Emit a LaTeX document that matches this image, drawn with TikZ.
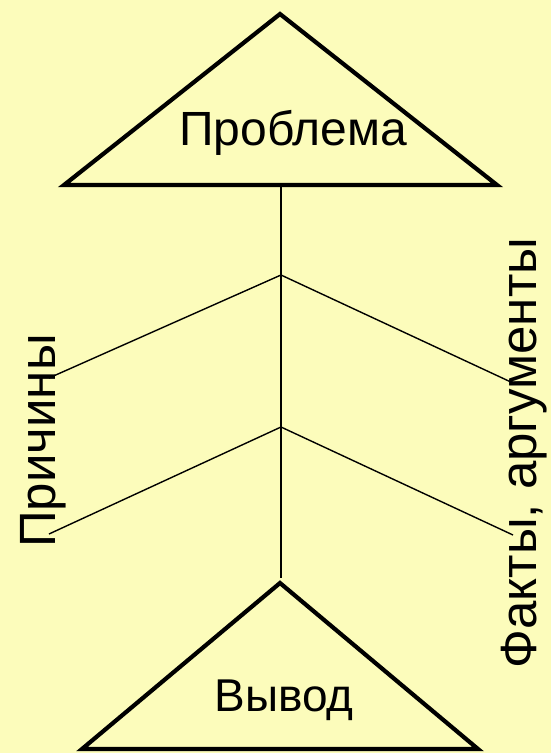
\documentclass[tikz,border=0pt]{standalone}
\usepackage{fontspec}
\setmainfont{Liberation Sans}
\usetikzlibrary{positioning}
\definecolor{paper}{HTML}{FCFCBB}

\begin{document}
\begin{tikzpicture}[x=1pt, y=-1pt,
    frame/.style={line width=4.2pt, line join=miter},
    bone/.style={line width=1.4pt},
    lbl/.style={inner sep=0pt, anchor=base},
    sidelbl/.style={lbl, rotate=90, font=\fontsize{51}{55}\selectfont}]
  \fill[paper] (0,0) rectangle (551,753);
  \useasboundingbox (0,0) rectangle (551,753);
  % triangles
  \coordinate (topA) at (280,14);
  \coordinate (topL) at (64,185);
  \coordinate (topR) at (497,185);
  \coordinate (botA) at (280,583);
  \coordinate (botL) at (82,749);
  \coordinate (botR) at (478,749);
  \draw[frame] (topA) -- (topL) -- (topR) -- cycle;
  \draw[frame] (botA) -- (botL) -- (botR) -- cycle;
  % spine and branches
  \coordinate (spTop) at (281,185);
  \coordinate (spBot) at (281,578);
  \draw[bone] (spTop) -- (spBot);
  \foreach \n/\y/\yl/\yr in {1/275/378/383, 2/427/534/535} {
    \coordinate (j\n) at (281,\y);
    \coordinate (l\n) at (49,\yl);
    \coordinate (r\n) at (513,\yr);
    \draw[bone] (l\n) -- (j\n) -- (r\n);
  }
  % labels
  \node[lbl, font=\fontsize{48}{52}\selectfont] (problem) at (293,145) {Проблема};
  \node[lbl, font=\fontsize{46}{50}\selectfont] (result) at (284,711) {Вывод};
  \node[sidelbl] (causes) at (55,441) {Причины};
  \node[sidelbl] (facts) at (536,453) {Факты, аргументы};
\end{tikzpicture}
\end{document}
